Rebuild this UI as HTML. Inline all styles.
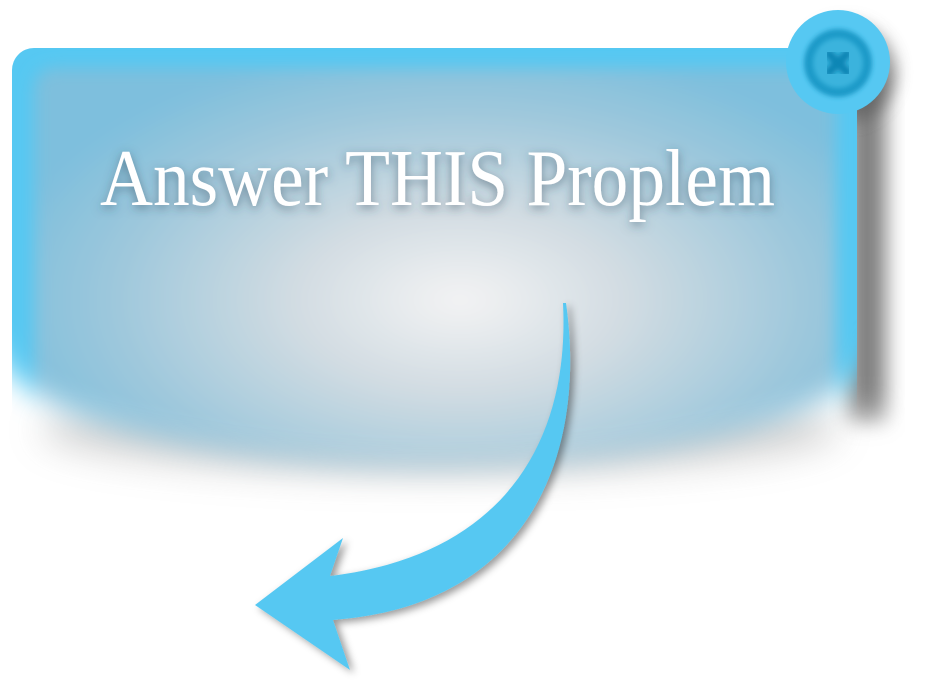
<!DOCTYPE html>
<html><head><meta charset="utf-8"><style>
html,body{margin:0;padding:0;background:#fff;width:946px;height:698px;overflow:hidden}
svg{display:block}
</style></head><body>
<svg width="946" height="698" viewBox="0 0 946 698">
<defs>
  <filter id="b14" x="-20%" y="-20%" width="140%" height="140%"><feGaussianBlur stdDeviation="14"/></filter>
  <filter id="b18" x="-20%" y="-20%" width="140%" height="140%"><feGaussianBlur stdDeviation="18"/></filter>
  <filter id="bsh" x="-30%" y="-150%" width="160%" height="400%"><feGaussianBlur stdDeviation="18"/></filter>
  <filter id="b10" x="-50%" y="-20%" width="200%" height="140%"><feGaussianBlur stdDeviation="10"/></filter>
  <filter id="b8" x="-20%" y="-20%" width="140%" height="140%"><feGaussianBlur stdDeviation="8"/></filter>
  <filter id="b3"><feGaussianBlur stdDeviation="2.5"/></filter>
  <filter id="ash" x="-20%" y="-20%" width="140%" height="140%"><feDropShadow dx="4" dy="3" stdDeviation="4" flood-color="#000" flood-opacity="0.4"/></filter>
  <filter id="tsh" x="-10%" y="-30%" width="120%" height="160%"><feDropShadow dx="0" dy="3" stdDeviation="5" flood-color="#345" flood-opacity="0.55"/></filter>
  <radialGradient id="inner" cx="460" cy="300" r="470" gradientUnits="userSpaceOnUse" gradientTransform="translate(460 300) scale(1 0.55) translate(-460 -300)">
    <stop offset="0" stop-color="#f3f3f4"/>
    <stop offset="0.35" stop-color="#d2dce2"/>
    <stop offset="0.75" stop-color="#9cc7dc"/>
    <stop offset="1" stop-color="#7ebfdd"/>
  </radialGradient>
  <mask id="fade" maskUnits="userSpaceOnUse" x="0" y="0" width="946" height="698">
    <g filter="url(#b14)">
      <rect x="-60" y="-40" width="1060" height="380" fill="#fff"/>
      <ellipse cx="435" cy="340" rx="440" ry="125" fill="#fff"/>
    </g>
  </mask>
  <mask id="sfade" maskUnits="userSpaceOnUse" x="0" y="0" width="946" height="698">
    <rect x="800" y="0" width="146" height="420" fill="#fff" filter="url(#b18)"/>
  </mask>
</defs>
<g mask="url(#sfade)">
  <rect x="848" y="70" width="38" height="360" fill="#555" filter="url(#b10)" opacity="0.75"/>
  <circle cx="846" cy="72" r="50" fill="#555" filter="url(#b8)" opacity="0.6"/>
</g>
<ellipse cx="440" cy="430" rx="400" ry="45" fill="#888" opacity="0.35" filter="url(#bsh)"/>
<g mask="url(#fade)">
  <rect x="12" y="48" width="845" height="460" rx="22" fill="#56c8f2"/>
  <rect x="34" y="68" width="802" height="440" rx="20" fill="url(#inner)" filter="url(#b8)"/>
</g>
<g>
  <circle cx="838" cy="62" r="52" fill="#56c8f2"/>
  <circle cx="838" cy="63" r="34" fill="#1a9ac8" filter="url(#b3)"/>
  <circle cx="838" cy="63" r="25" fill="#3ab3dd" filter="url(#b3)"/>
  <g filter="url(#b3)" stroke="#0a86b5" stroke-width="9" stroke-linecap="round">
    <line x1="829" y1="54" x2="847" y2="72"/><line x1="847" y1="54" x2="829" y2="72"/>
  </g>
</g>
<text x="100" y="205" textLength="675" lengthAdjust="spacingAndGlyphs" font-family="'Liberation Serif',serif" font-size="80" fill="#fff" filter="url(#tsh)">Answer THIS Proplem</text>
<path d="M563,303 C570,440 505,555 330,576 L343,538 L255,605 L350,670 L333,620 C525,606 588,460 566,303 Z" fill="#56c8f2" filter="url(#ash)"/>
</svg>
</body></html>
